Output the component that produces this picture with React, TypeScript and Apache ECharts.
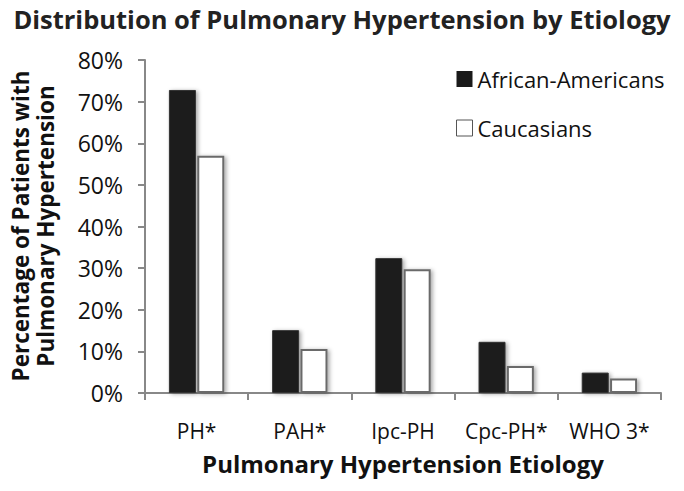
import React, { useEffect, useRef } from "react";
import * as echarts from "echarts";

const categories = ["PH*", "PAH*", "Ipc-PH", "Cpc-PH*", "WHO 3*"];
const africanAmericans = [72.8, 15.1, 32.4, 12.3, 4.9];
const caucasians = [57.0, 10.6, 29.7, 6.5, 3.5];
const yTicks = [0, 10, 20, 30, 40, 50, 60, 70, 80];

const FONT = "'Open Sans', 'Noto Sans', sans-serif";

export default function App() {
  const ref = useRef<HTMLDivElement>(null);
  useEffect(() => {
    if (!ref.current) return;
    const chart = echarts.init(ref.current, null, { renderer: "svg" });
    const barShadow = {
      shadowBlur: 4,
      shadowColor: "rgba(0,0,0,0.35)",
      shadowOffsetX: 2,
      shadowOffsetY: 1,
    };
    chart.setOption({
      animation: false,
      backgroundColor: "#ffffff",
      textStyle: { fontFamily: FONT },
      title: {
        text: "Distribution of Pulmonary Hypertension by Etiology",
        left: "center",
        top: 1,
        textStyle: { fontFamily: FONT, fontWeight: "bold", fontSize: 25.5, color: "#222" },
      },
      legend: {
        orient: "vertical",
        left: 451,
        top: 63,
        itemWidth: 16,
        itemHeight: 16,
        itemGap: 27,
        textStyle: { fontFamily: FONT, fontSize: 22, color: "#111" },
        data: [
          { name: "African-Americans", icon: "rect", itemStyle: { color: "#1a1a1a", borderWidth: 0 } },
          { name: "Caucasians", icon: "rect", itemStyle: { color: "#fff", borderColor: "#555", borderWidth: 1 } },
        ],
      },
      grid: { left: 145, right: 23, top: 60, bottom: 98, containLabel: false },
      xAxis: {
        type: "category",
        data: categories,
        axisLine: { lineStyle: { color: "#888", width: 2 } },
        axisTick: { show: true, length: 7, lineStyle: { color: "#888", width: 2 } },
        axisLabel: { fontFamily: FONT, fontSize: 21, color: "#111", margin: 27, interval: 0, hideOverlap: false },
        name: "Pulmonary Hypertension Etiology",
        nameLocation: "middle",
        nameGap: 58,
        nameTextStyle: { fontFamily: FONT, fontWeight: "bold", fontSize: 24, color: "#111" },
      },
      yAxis: {
        type: "value",
        min: yTicks[0],
        max: yTicks[yTicks.length - 1],
        interval: 10,
        axisLine: { show: true, lineStyle: { color: "#888", width: 2 } },
        axisTick: { show: true, length: 7, lineStyle: { color: "#888", width: 2 } },
        splitLine: { show: false },
        axisLabel: {
          fontFamily: FONT,
          fontSize: 23,
          color: "#111",
          margin: 22,
          formatter: (v: number) => `${v}%`,
        },
      },
      graphic: [
        {
          type: "text",
          x: 33,
          y: 226,
          rotation: Math.PI / 2,
          style: {
            text: "Percentage of Patients with\nPulmonary Hypertension",
            fontFamily: FONT,
            fontWeight: "bold",
            fontSize: 22.5,
            lineHeight: 25,
            fill: "#111",
            align: "center",
            verticalAlign: "middle",
          },
        },
      ],
      series: [
        {
          name: "African-Americans",
          type: "bar",
          data: africanAmericans,
          barWidth: 27,
          barGap: "5%",
          itemStyle: { color: "#1a1a1a", borderColor: "#333", borderWidth: 1, ...barShadow },
        },
        {
          name: "Caucasians",
          type: "bar",
          data: caucasians,
          barWidth: 27,
          itemStyle: { color: "#ffffff", borderColor: "#6a6a6a", borderWidth: 2, ...barShadow },
        },
      ],
    });
    return () => chart.dispose();
  }, []);
  return <div ref={ref} style={{ width: 684, height: 491, margin: -8 }} />;
}
